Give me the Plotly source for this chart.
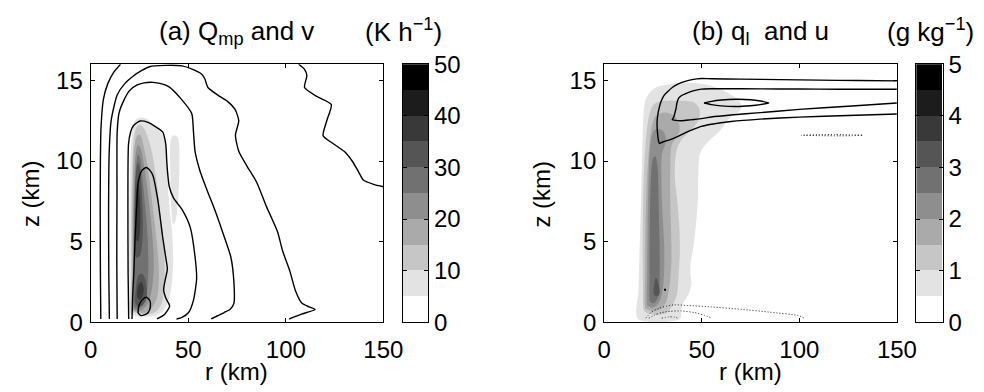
import plotly.graph_objects as go

FONT = "Liberation Sans, Arial, Helvetica, sans-serif"

# ---- shading levels (10 gray bands) ----
GRAYS = ["#ffffff", "#e3e3e3", "#c6c6c6", "#aaaaaa", "#8e8e8e",
         "#717171", "#555555", "#393939", "#1c1c1c", "#000000"]
QMP_BOUNDS = [0, 5, 10, 15, 20, 25, 30, 35, 40, 45, 50]          # K h^-1
QL_BOUNDS = [0, 0.5, 1, 1.5, 2, 2.5, 3, 3.5, 4, 4.5, 5]         # g kg^-1

# ---- (a) microphysical heating Q_mp: filled isolines (r km, z km) ----
qmp05_r = [20.3, 19.8, 19.7, 20.0, 20.5, 21.5, 23, 26, 29, 31.5, 34, 36.5, 38.2,
           39.0, 39.6, 40.5, 41.8, 42.3, 42.0, 41.2, 39.5, 37, 34, 30, 26, 22.5, 20.8]
qmp05_z = [0.5, 2.5, 5, 8, 10.5, 11.9, 12.55, 12.7, 12.6, 12.3, 12.0, 11.7, 11.2,
           10, 8.5, 7, 5.5, 4, 3, 2, 1.2, 0.7, 0.45, 0.35, 0.35, 0.4, 0.5]
qmp05b_r = [41.0, 42.5, 44.5, 45.4, 45.4, 44.8, 43.5, 42.2, 41.3, 40.8]
qmp05b_z = [11.3, 11.6, 11.5, 10.8, 9.0, 7.5, 6.3, 6.1, 7.0, 9.5]
qmp10_r = [21.0, 20.8, 20.8, 21.2, 22, 23.5, 25.5, 27.5, 29.5, 31.5, 33.5, 35.5,
           37.2, 38.0, 37.8, 36.5, 34, 30, 26, 22.5]
qmp10_z = [0.6, 3, 6, 9, 11.2, 12.1, 12.25, 12.0, 11.4, 10.5, 9.0, 7.0,
           5, 3.5, 2.2, 1.2, 0.7, 0.5, 0.5, 0.6]
qmp15_r = [21.4, 21.3, 21.3, 21.7, 22.5, 24, 25.5, 27, 29, 31, 33, 34.5, 35, 34,
           31.5, 28, 24, 22]
qmp15_z = [0.7, 3, 6, 9, 10.9, 11.6, 11.6, 11.0, 9.8, 8.0, 6.0, 4.2, 2.8, 1.5,
           0.9, 0.6, 0.6, 0.7]
qmp20_r = [21.8, 21.7, 21.8, 22.2, 23, 24.2, 25.5, 27, 28.5, 30.5, 32, 32.3, 31,
           28.5, 25, 22.5]
qmp20_z = [0.8, 3, 6, 8.5, 10.3, 11.0, 10.8, 10.0, 8.8, 6.8, 4.8, 3.2, 1.8,
           1.0, 0.7, 0.75]
qmp25_r = [22.2, 22.1, 22.2, 22.6, 23.3, 24.3, 25.3, 26.3, 27.3, 28.5, 29.3, 29.5,
           28.5, 26.5, 24, 22.6]
qmp25_z = [1.0, 3, 5.5, 8, 9.7, 10.4, 10.2, 9.3, 8.0, 6.5, 5.0, 3.0,
           1.6, 1.0, 0.85, 0.9]
qmp30_r = [22.6, 22.5, 22.7, 23.3, 24.2, 25.1, 26.0, 26.6, 26.8, 26.3, 25.2, 23.5]
qmp30_z = [4.3, 6, 8, 9.3, 9.9, 9.6, 8.5, 7.0, 5.8, 4.8, 4.1, 4.0]
qmp30b_r = [22.8, 23.3, 24.5, 26.5, 28.3, 28.8, 28, 26, 24]
qmp30b_z = [1.2, 2.2, 2.9, 3.0, 2.5, 1.8, 1.3, 1.0, 1.0]
qmp35_r = [23.0, 22.9, 23.2, 23.9, 24.8, 25.4, 25.2, 24.3]
qmp35_z = [5.2, 6.5, 7.8, 8.6, 8.3, 7.0, 5.6, 5.0]
qmp35b_r = [23.8, 24.5, 26.0, 27.2, 26.5, 25.0]
qmp35b_z = [1.6, 2.3, 2.5, 2.1, 1.6, 1.4]

# ---- (a) tangential wind v: isolines 10..60 m/s ----
v10o_r = [106.6, 109.5, 110.8, 109.6, 116, 123.3, 121, 119.1, 124, 129.9, 134,
          137.4, 139.9, 145, 150]
v10o_z = [16, 15.7, 15.3, 14.56, 14.0, 13.5, 12.5, 11.57, 11.1, 10.6, 10.0,
          9.3, 8.8, 8.55, 8.4]
v10i_r = [5.2, 5.0, 4.9, 5.0, 5.3, 6.5, 8.8, 11.8, 15.3]
v10i_z = [0.2, 3, 7, 10, 12, 13.8, 14.8, 15.5, 16]
v20_r = [9.6, 9.3, 9.2, 9.5, 10.5, 13.6, 17.5, 21.9, 26, 30.2, 38, 46.8, 52,
         56.8, 58.5, 60.1, 65, 70.1, 74, 75.9, 74.2, 75.9, 80, 85, 90, 95.8,
         98.3, 102, 105, 108.3, 112, 115, 108, 101.7]
v20_z = [0.2, 3, 7, 10.5, 12.5, 14.1, 14.8, 15.27, 15.6, 15.85, 15.93, 15.9,
         15.7, 15.4, 15.1, 14.56, 14.1, 13.7, 13.2, 12.5, 11.6, 10.6, 9.7, 8.7,
         7.2, 5.6, 4.45, 3.2, 1.94, 1.17, 0.95, 0.79, 0.5, 0.2]
v30_r = [13.6, 13.4, 13.5, 13.6, 14.6, 16.9, 19.8, 23.6, 27.5, 31.9, 36, 40.2,
         46, 51.8, 52.7, 53.5, 56, 59.3, 63.5, 67.6, 71.8, 73.4, 73.4, 71.5,
         68.4, 65, 61.8]
v30_z = [0.2, 4, 8, 11.8, 13.0, 13.73, 14.35, 14.7, 14.85, 14.88, 14.8, 14.6,
         13.9, 12.95, 11.8, 10.6, 9.4, 8.3, 7.0, 5.6, 4.06, 2.5, 1.17, 0.8,
         0.6, 0.4, 0.2]
v40_r = [19.5, 19.2, 19.1, 19.4, 20.5, 21.9, 25.3, 29.4, 33, 36.9, 38.5, 39,
         39.5, 40.3, 42.5, 46.8, 51, 53.5, 54.3, 52.7, 50.2, 46.8, 44]
v40_z = [0.2, 3, 7, 11.04, 11.8, 12.19, 12.48, 12.4, 12.15, 11.8, 11.03, 10,
         9.2, 8.4, 7.7, 7.0, 5.9, 4.06, 2.7, 1.37, 0.6, 0.3, 0.2]
v50_r = [21.2, 21.5, 22.2, 22.8, 23.6, 24.4, 26.2, 28.6, 30.5, 31.9, 34.4, 36.9,
         38.5, 39.3, 38, 37.4, 38.5, 40.5, 38, 34]
v50_z = [0.2, 1.5, 3.3, 5.3, 7.2, 8.7, 9.4, 9.6, 9.4, 9.1, 7.6, 5.3, 4, 3.3,
         2.5, 2.0, 1.5, 1.0, 0.5, 0.2]
v60_r = [24.3, 24.8, 26.5, 28.5, 30.3, 30.6, 29.5, 27.5, 25.5, 24.3]
v60_z = [0.6, 1.05, 1.4, 1.55, 1.35, 0.95, 0.6, 0.45, 0.42, 0.6]

# ---- (b) liquid water q_l: filled isolines ----
ql05_r = [17.3, 17.6, 18.3, 18.9, 19.5, 20.5, 21.5, 23.9, 27, 30.5, 36, 42, 48.8,
          55, 60.5, 65, 68.8, 70.4, 69, 65.4, 62, 58.8, 55, 52.2, 50, 48.8, 48.2,
          48, 47, 45.5, 44.3, 44.2, 44.7, 43.5, 40.5, 39.5, 38.9]
ql05_z = [0.2, 2, 5, 7.6, 10.5, 13.35, 13.9, 14.3, 14.6, 14.7, 14.8, 14.85, 14.8,
          14.65, 14.4, 14.1, 13.8, 13.4, 13.05, 12.8, 12.3, 11.8, 11.4, 11.05,
          10.7, 10.3, 9, 7.6, 6, 4.5, 3.7, 3.0, 2.4, 1.8, 1.2, 0.7, 0.2]
ql10_r = [20.5, 19.9, 19.8, 20.3, 21.5, 23, 24.9, 28, 31.6, 36, 39.9, 43.5,
          46.5, 48.6, 49, 48.2, 45.5, 43.2, 41, 39, 37.5, 36.5, 36.2, 37.5,
          38.5, 38.8, 38.2, 37.4, 34.9, 31.6, 27, 22.5]
ql10_z = [0.7, 2.5, 6, 9, 11.5, 12.8, 13.45, 13.68, 13.73, 13.75, 13.73, 13.7,
          13.6, 13.3, 12.9, 12.5, 12.05, 11.76, 11.5, 11.2, 10.8, 10.2, 9, 7.5,
          6, 4.5, 3, 1.8, 1.0, 0.55, 0.45, 0.55]
ql15_r = [21.2, 21.0, 21.2, 22, 23.2, 24.5, 26.5, 30, 33.5, 36.5, 38.5, 38.5,
          36.5, 34.6, 34, 33.8, 34.2, 34.5, 34, 33.2, 31.6, 29, 25, 22]
ql15_z = [0.85, 3, 6, 9, 11, 12.2, 12.8, 13.0, 12.95, 12.75, 12.3, 11.8, 11.4,
          11.0, 10.2, 8, 6, 4, 2.8, 2.0, 1.2, 0.8, 0.7, 0.8]
ql20_r = [22.2, 22.1, 22.3, 22.8, 23.5, 24.5, 26, 28, 30.5, 31.7, 31.2, 29.7,
          29.3, 29.8, 30.7, 30.8, 30.2, 28.8, 26.5, 24, 22.6]
ql20_z = [1.0, 3, 6, 9, 10.8, 11.6, 11.95, 12.0, 11.8, 11.4, 11.0, 10.5, 9, 7,
          5, 3.5, 2.2, 1.4, 1.0, 0.9, 1.0]
ql25_r = [23.5, 23.3, 23.4, 23.8, 24.4, 25.2, 26.2, 27.4, 27.8, 28.2, 28.5,
          28.3, 27.5, 25.8, 24.2]
ql25_z = [1.3, 3, 6, 8.5, 9.7, 10.2, 10.3, 9.6, 8, 6, 4, 2.3, 1.5, 1.2, 1.2]
ql30_r = [25.3, 25.6, 26.5, 27.4, 28.2, 28.5, 28, 26.8, 25.6]
ql30_z = [1.9, 2.3, 2.75, 2.6, 2.2, 1.9, 1.65, 1.6, 1.7]

# ---- (b) radial wind u: outflow (solid) and inflow (dotted) isolines ----
u1_r = [150, 130, 110, 90, 70, 55, 49.8, 45, 41.5, 38, 34.9, 32.5, 30.7, 29.2,
        28.2, 27.4, 27.1, 27.3, 27.8, 28.3, 30.5, 33.2, 37, 41.5, 45.5, 49.8,
        55, 65, 80, 100, 125, 150]
u1_z = [14.97, 14.99, 15.02, 15.05, 15.08, 15.1, 15.12, 15.05, 14.94, 14.78,
        14.56, 14.3, 14.07, 13.7, 13.3, 12.8, 12.34, 11.8, 11.3, 11.1, 11.2,
        11.3, 11.48, 11.75, 11.95, 12.15, 12.28, 12.45, 12.6, 12.72, 12.82, 12.92]
u2_r = [150, 130, 110, 90, 70, 55, 49.8, 45.5, 41.5, 39.5, 38.2, 37.3, 36.9,
        36.3, 35.7, 34.9, 36.5, 39.9, 44, 49.8, 55, 65, 80, 100, 125, 150]
u2_z = [14.45, 14.45, 14.46, 14.47, 14.48, 14.48, 14.46, 14.35, 14.17, 14.05,
        13.9, 13.6, 13.3, 13.0, 12.73, 12.57, 12.52, 12.5, 12.55, 12.63, 12.73,
        12.85, 13.0, 13.2, 13.4, 13.6]
u3_r = [51.2, 55, 60, 67.7, 75, 80, 84.4, 80, 75, 67.7, 60, 55, 51.2]
u3_z = [13.6, 13.7, 13.78, 13.83, 13.8, 13.72, 13.6, 13.5, 13.43, 13.38, 13.42,
        13.5, 13.6]
u4_r = [30.7, 31.2, 31.7]
u4_z = [2.02, 2.02, 2.02]
d1_r = [21.3, 24, 27.9, 32, 36.2, 42.8, 55, 70, 85, 99.3, 102.6]
d1_z = [0.25, 0.6, 0.85, 1.0, 1.08, 1.04, 0.95, 0.8, 0.62, 0.42, 0.25]
d2_r = [22.9, 26, 29.5, 34, 39.5, 46.2, 51.1, 55.3]
d2_z = [0.25, 0.45, 0.6, 0.68, 0.7, 0.6, 0.44, 0.25]
d3_r = [29.5, 33, 36, 38]
d3_z = [0.25, 0.33, 0.32, 0.25]
d4_r = [101, 110, 118, 122, 127, 132.5, 127, 120, 112, 101]
d4_z = [11.6, 11.63, 11.64, 11.63, 11.62, 11.6, 11.57, 11.56, 11.57, 11.6]

# ---- layout geometry (pixels of a 984 x 392 page) ----
W, H = 984, 392
PLOT_TOP, PLOT_BOT = 54, 331
A_X = (86, 387)
B_X = (614, 915)
CBA_X = (407, 433)
CBB_X = (935, 962)


def px_x(a, b):
    return [a / W, b / W]


Y_DOM = [1 - PLOT_BOT / H, 1 - PLOT_TOP / H]

fig = go.Figure()


def closed(r, z):
    return list(r) + [r[0]], list(z) + [z[0]]


def fill(r, z, level, bounds, xa, ya):
    rr, zz = closed(r, z)
    fig.add_trace(go.Scatter(
        x=rr, y=zz, mode="lines", fill="toself",
        fillcolor=GRAYS[bounds.index(level)],
        line=dict(width=0, shape="spline", smoothing=0.8, color="rgba(0,0,0,0)"),
        hoverinfo="skip", showlegend=False, xaxis=xa, yaxis=ya))


def iso(r, z, xa, ya, close=False, dash="solid", width=1.4, color="black"):
    if close:
        r, z = closed(r, z)
    fig.add_trace(go.Scatter(
        x=r, y=z, mode="lines",
        line=dict(width=width, color=color, dash=dash, shape="spline", smoothing=0.6),
        hoverinfo="skip", showlegend=False, xaxis=xa, yaxis=ya))


# panel (a) shading
for r, z, lev in [(qmp05_r, qmp05_z, 5), (qmp05b_r, qmp05b_z, 5),
                  (qmp10_r, qmp10_z, 10), (qmp15_r, qmp15_z, 15),
                  (qmp20_r, qmp20_z, 20), (qmp25_r, qmp25_z, 25),
                  (qmp30_r, qmp30_z, 30), (qmp30b_r, qmp30b_z, 30),
                  (qmp35_r, qmp35_z, 35), (qmp35b_r, qmp35b_z, 35)]:
    fill(r, z, lev, QMP_BOUNDS, "x", "y")

# panel (a) v contours
for r, z in [(v10o_r, v10o_z), (v10i_r, v10i_z), (v20_r, v20_z),
             (v30_r, v30_z), (v40_r, v40_z), (v50_r, v50_z)]:
    iso(r, z, "x", "y")
iso(v60_r, v60_z, "x", "y", close=True)

# panel (b) shading
for r, z, lev in [(ql05_r, ql05_z, 0.5), (ql10_r, ql10_z, 1),
                  (ql15_r, ql15_z, 1.5), (ql20_r, ql20_z, 2),
                  (ql25_r, ql25_z, 2.5), (ql30_r, ql30_z, 3)]:
    fill(r, z, lev, QL_BOUNDS, "x3", "y3")

# panel (b) u contours
iso(u1_r, u1_z, "x3", "y3")
iso(u2_r, u2_z, "x3", "y3")
iso(u3_r, u3_z, "x3", "y3", close=True)
iso(u4_r, u4_z, "x3", "y3", width=2)
for r, z in [(d1_r, d1_z), (d2_r, d2_z), (d3_r, d3_z), (d4_r, d4_z)]:
    iso(r, z, "x3", "y3", dash="1px,2px", width=1, color="#222222")

# colour bars built from the band edges
for bounds, xa, ya in [(QMP_BOUNDS, "x2", "y2"), (QL_BOUNDS, "x4", "y4")]:
    lows = bounds[:-1]
    tops = [b - a for a, b in zip(bounds[:-1], bounds[1:])]
    fig.add_trace(go.Bar(
        x=[0] * len(lows), y=tops, base=lows, width=1,
        marker=dict(color=GRAYS, line=dict(width=0)),
        hoverinfo="skip", showlegend=False, xaxis=xa, yaxis=ya))

tick_font = dict(family=FONT, size=24, color="black")
frame = dict(showline=True, linecolor="black", linewidth=1.2, mirror="ticks",
             ticks="inside", ticklen=4, tickwidth=1, tickcolor="black",
             showgrid=False, zeroline=False, tickfont=tick_font, fixedrange=True)
bar_frame = {k: v for k, v in frame.items() if k != "ticks"}

fig.update_layout(
    width=W, height=H, margin=dict(l=0, r=0, t=0, b=0),
    paper_bgcolor="white", plot_bgcolor="white",
    font=dict(family=FONT, size=24, color="black"),
    bargap=0,
    xaxis=dict(domain=px_x(*A_X), range=[0, 150], tickvals=[0, 50, 100, 150],
               anchor="y", ticklabelstandoff=6, **frame),
    yaxis=dict(domain=Y_DOM, range=[0, 16], tickvals=[0, 5, 10, 15],
               anchor="x", ticklabelstandoff=2, **frame),
    xaxis2=dict(domain=px_x(*CBA_X), range=[-0.5, 0.5], anchor="y2",
                showticklabels=False, ticks="", **bar_frame),
    yaxis2=dict(domain=Y_DOM, range=[0, 50], tickvals=[0, 10, 20, 30, 40, 50],
                anchor="x2", side="right", ticklabelstandoff=0, **frame),
    xaxis3=dict(domain=px_x(*B_X), range=[0, 150], tickvals=[0, 50, 100, 150],
                anchor="y3", ticklabelstandoff=6, **frame),
    yaxis3=dict(domain=Y_DOM, range=[0, 16], tickvals=[0, 5, 10, 15],
                anchor="x3", ticklabelstandoff=2, **frame),
    xaxis4=dict(domain=px_x(*CBB_X), range=[-0.5, 0.5], anchor="y4",
                showticklabels=False, ticks="", **bar_frame),
    yaxis4=dict(domain=Y_DOM, range=[0, 5], tickvals=[0, 1, 2, 3, 4, 5],
                anchor="x4", side="right", ticklabelstandoff=0, **frame),
)


def label(text, x_px, y_px, size=24, angle=0, xanchor="center"):
    fig.add_annotation(text=text, x=x_px / W, y=1 - y_px / H, xref="paper",
                       yref="paper", showarrow=False, textangle=angle,
                       xanchor=xanchor, yanchor="middle",
                       font=dict(family=FONT, size=size, color="black"))


label("(a) Q<sub>mp</sub> and v", 236, 20, size=26)
label("(K h<sup>\u22121</sup>)", 408, 18, size=26)
label("(b) q<sub>l</sub> \u00a0and u", 775, 20, size=26)
label("(g kg<sup>\u22121</sup>)", 950, 18, size=26)
label("r (km)", 236, 384)
label("r (km)", 764, 384)
label("z (km)", 24, 193, angle=-90)
label("z (km)", 550, 193, angle=-90)

fig.write_html("out.html")
